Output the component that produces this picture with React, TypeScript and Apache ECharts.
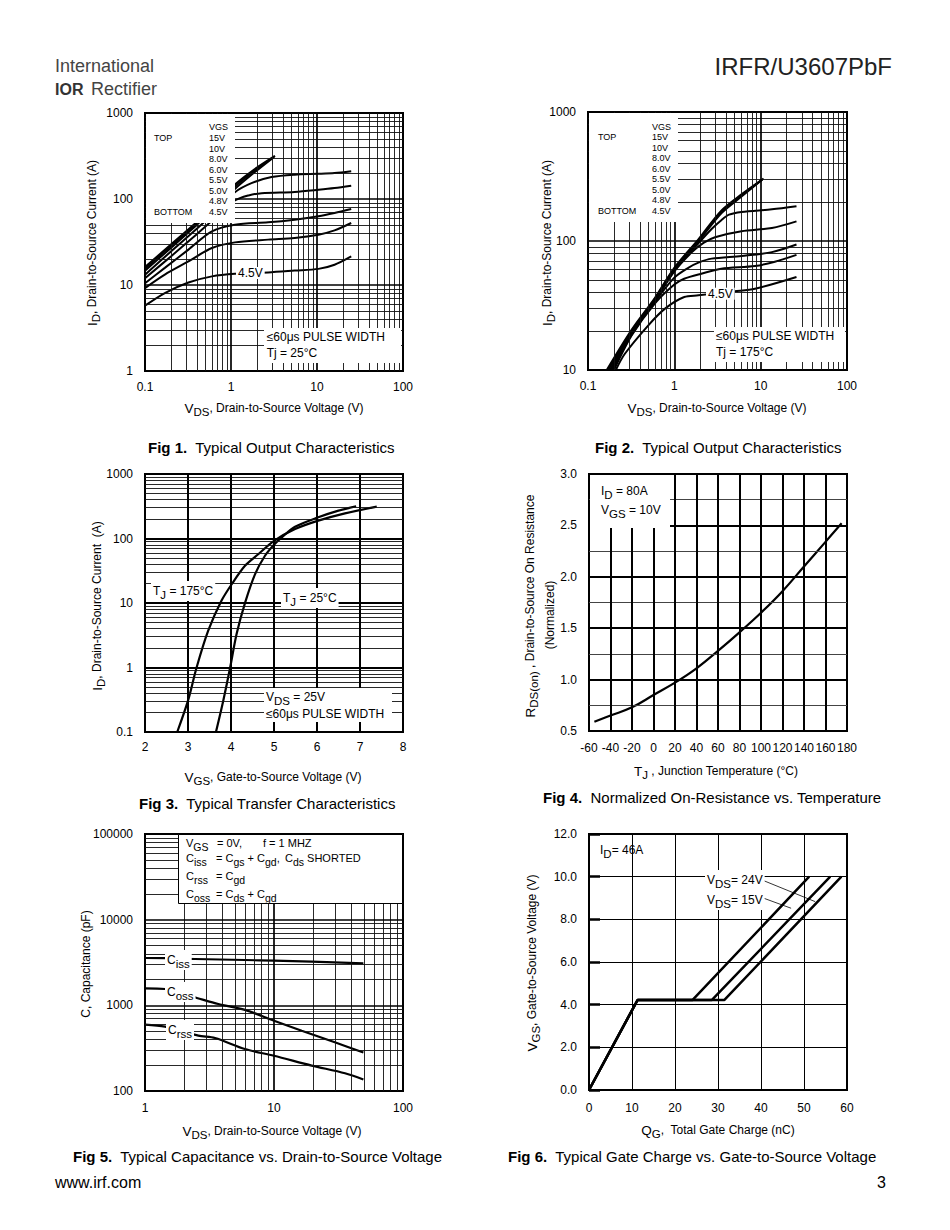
import React, { useEffect, useRef } from 'react';
import * as echarts from 'echarts';

const FONT = '"Liberation Sans", Arial, Helvetica, sans-serif';

// ---------------- Fig 1: Typical Output Characteristics, Tj = 25°C  ([VDS V, ID A])
const fig1Labels = ['15V', '10V', '8.0V', '6.0V', '5.5V', '5.0V', '4.8V', '4.5V'];
const fig1_15V = [[0.1, 16.2], [0.2, 29.5], [0.4, 54], [0.7, 90], [1.11, 147], [2, 232], [3.25, 318]];
const fig1_10V = [[0.1, 15.5], [0.2, 28.5], [0.4, 52], [0.7, 86], [1.11, 139], [2, 224], [3.2, 312]];
const fig1_8V = [[0.1, 14.6], [0.2, 27], [0.4, 50], [0.7, 82], [1.11, 131], [2, 215], [3.1, 303]];
const fig1_6V = [[0.1, 13.2], [0.2, 24.5], [0.4, 45], [0.7, 76], [1.11, 120], [1.73, 153], [2.96, 180], [5.5, 192], [10.4, 196], [16, 200], [25, 210]];
const fig1_55V = [[0.1, 12], [0.2, 21.5], [0.4, 39], [0.7, 64], [1.11, 96], [1.6, 110], [2.27, 117], [5.5, 121], [10.4, 128], [16, 134], [25, 143]];
const fig1_5V = [[0.1, 10.5], [0.17, 15.8], [0.32, 25.8], [0.6, 42], [1.11, 50.3], [2.7, 53.5], [5.5, 57.5], [10.4, 62.9], [16, 68.7], [25, 76.5]];
const fig1_48V = [[0.1, 9.2], [0.17, 13.2], [0.32, 18.8], [0.6, 26.9], [1.11, 31.3], [2.7, 33.7], [5.5, 35.2], [10.4, 38.5], [16, 43.2], [25, 52.6]];
const fig1_45V = [[0.1, 5.75], [0.17, 8.07], [0.32, 10.7], [0.6, 12.6], [1.11, 13.5], [2.7, 14], [5.5, 14.7], [10.4, 15.4], [16, 17.2], [25, 21.5]];
const fig1XTicks = [0.1, 1, 10, 100];
const fig1YTicks = [1, 10, 100, 1000];

// ---------------- Fig 2: Typical Output Characteristics, Tj = 175°C
const fig2_15V = [[0.165, 10], [0.32, 20.5], [0.6, 36.5], [1, 62], [1.9, 103], [3.5, 172], [6, 230], [10.8, 305]];
const fig2_10V = [[0.172, 10], [0.32, 20], [0.6, 36], [1, 61], [1.9, 101], [3.5, 168], [6, 226], [10.5, 300]];
const fig2_8V = [[0.18, 10], [0.32, 19.5], [0.6, 35.5], [1, 60], [1.9, 99], [3.5, 164], [6, 221], [10.2, 296]];
const fig2_6V = [[0.185, 10], [0.32, 19.2], [0.6, 35], [1, 59], [1.9, 96], [2.7, 124], [3.5, 145], [4.3, 160], [6, 168], [13.5, 176], [26, 186]];
const fig2_55V = [[0.19, 10], [0.32, 19], [0.6, 34.5], [1, 58], [1.6, 82], [2.2, 97], [2.96, 107], [6, 119], [13.5, 126], [26, 142]];
const fig2_5V = [[0.195, 10], [0.32, 18.8], [0.6, 34], [1, 52], [1.45, 62], [1.9, 68], [2.7, 73], [6, 76.6], [13.5, 82], [26, 94]];
const fig2_48V = [[0.2, 10], [0.32, 18.5], [0.6, 33], [1, 46], [1.3, 51], [2.1, 56], [3.5, 61], [8.6, 64], [14.6, 69], [26, 78]];
const fig2_45V = [[0.21, 10], [0.266, 13.3], [0.5, 22.2], [0.78, 29.9], [1.3, 36.8], [1.9, 37.9], [5, 40.7], [8.6, 42.6], [26, 52.6]];
const fig2XTicks = [0.1, 1, 10, 100];
const fig2YTicks = [10, 100, 1000];

// ---------------- Fig 3: Typical Transfer Characteristics ([VGS V, ID A])
const fig3T175 = [[2.75, 0.1], [3.0, 0.306], [3.2, 1.0], [3.47, 3.72], [3.78, 10.9], [4.02, 19.7], [4.33, 38], [4.64, 57.5], [5.0, 92], [5.49, 140], [6.03, 189], [6.65, 245], [7.39, 312]];
const fig3T25 = [[3.65, 0.1], [3.82, 0.306], [3.98, 1.0], [4.13, 3.3], [4.33, 10.2], [4.56, 28], [4.79, 54], [5.0, 80], [5.18, 104], [5.49, 152], [6.03, 213], [6.5, 270], [6.91, 316]];
const fig3XTicks = [2, 3, 4, 5, 6, 7, 8];
const fig3YTicks = [0.1, 1, 10, 100, 1000];

// ---------------- Fig 4: Normalized On-Resistance vs. Temperature
const fig4Temp = [-55, -40, -20, 0, 20, 40, 60, 80, 100, 120, 140, 160, 175];
const fig4Rds = [0.59, 0.65, 0.73, 0.85, 0.97, 1.11, 1.28, 1.46, 1.65, 1.86, 2.1, 2.34, 2.52];
const fig4XTicks = [-60, -40, -20, 0, 20, 40, 60, 80, 100, 120, 140, 160, 180];
const fig4YTicks = [0.5, 1.0, 1.5, 2.0, 2.5, 3.0];

// ---------------- Fig 5: Typical Capacitance vs. VDS ([VDS V, C pF])
const fig5Ciss = [[1, 3570], [1.43, 3560], [2.44, 3475], [5.95, 3380], [10, 3320], [19.6, 3236], [49.3, 3090]];
const fig5Coss = [[1, 1578], [1.43, 1550], [2.52, 1220], [3.7, 1037], [5.95, 884], [10, 662], [16.4, 506], [29.6, 370], [49.3, 282]];
const fig5Crss = [[1, 595], [1.43, 564], [2.59, 443], [3.49, 416], [5.95, 309], [10, 258], [19.6, 198], [35.5, 161], [49.3, 136]];
const fig5XTicks = [1, 10, 100];
const fig5YTicks = [100, 1000, 10000, 100000];

// ---------------- Fig 6: Typical Gate Charge vs. VGS ([QG nC, VGS V])
const fig6Left = [[0, 0], [11.3, 4.22], [24.1, 4.22], [51.2, 10]];
const fig6Mid = [[0, 0], [11.3, 4.22], [28.6, 4.22], [56.1, 10]];
const fig6Right = [[0, 0], [11.3, 4.22], [31.5, 4.22], [58.7, 10]];
const fig6Leader24 = [[39.8, 9.88], [52.6, 8.83]];
const fig6Leader15 = [[40.1, 9.03], [47, 8.52]];
const fig6XTicks = [0, 10, 20, 30, 40, 50, 60];
const fig6YTicks = [0, 2, 4, 6, 8, 10, 12];

// ---------------- helpers
const last = (a: number[]) => a[a.length - 1];
const inner = (a: number[]) => a.slice(1, -1);
const decadeMinor = (lo: number, hi: number) => {
  const out: number[] = [];
  for (let e = Math.round(Math.log10(lo)); e < Math.round(Math.log10(hi)); e++) {
    for (let k = 2; k <= 9; k++) out.push(Number((k * Math.pow(10, e)).toPrecision(3)));
  }
  return out;
};
const fmtLog = (v: number) => String(Number(Number(v).toPrecision(6)));

const labelBase = { color: '#000', fontSize: 12, fontFamily: FONT };

function logAxis(grid: number, ticks: number[], margin: number) {
  return {
    gridIndex: grid, type: 'log', logBase: 10, min: ticks[0], max: last(ticks),
    axisLine: { show: false }, axisTick: { show: false }, splitLine: { show: false },
    axisLabel: { ...labelBase, margin, formatter: fmtLog, showMinLabel: true, showMaxLabel: true },
  };
}
function valAxis(grid: number, ticks: number[], margin: number, fmt: (v: number) => string, extra: any = {}) {
  return {
    gridIndex: grid, type: 'value', min: ticks[0], max: last(ticks), interval: ticks[1] - ticks[0],
    axisLine: { show: false }, axisTick: { show: false }, splitLine: { show: false },
    axisLabel: { ...labelBase, margin, formatter: fmt, interval: 0, showMinLabel: true, showMaxLabel: true },
    ...extra,
  };
}
function gridLines(idx: number, anchor: number[], xs: number[], ys: number[], width: number, color: string) {
  return {
    type: 'line', xAxisIndex: idx, yAxisIndex: idx, data: [anchor], symbol: 'none', silent: true, z: 1,
    lineStyle: { opacity: 0 },
    markLine: {
      silent: true, symbol: ['none', 'none'], label: { show: false }, animation: false,
      lineStyle: { color, width, type: 'solid' }, emphasis: { disabled: true },
      data: [...xs.map((v) => ({ xAxis: v })), ...ys.map((v) => ({ yAxis: v }))],
    },
  };
}
function curve(idx: number, name: string, data: number[][], width = 2, smooth: any = 0.3) {
  return {
    type: 'line', name, xAxisIndex: idx, yAxisIndex: idx, data, symbol: 'none', showSymbol: false,
    smooth, silent: true, z: 3, lineStyle: { color: '#000', width },
  };
}

const richSet = (size: number) => {
  const L = size + 8;
  const base = { fontSize: size, fontFamily: FONT, fill: '#000', color: '#000', lineHeight: L, verticalAlign: 'middle' };
  return {
    n: base,
    v: { ...base, fontSize: size + 1.5 },
    s: { fontSize: size - 0.5, fontFamily: FONT, fill: '#000', color: '#000', lineHeight: size, verticalAlign: 'bottom' },
  };
};
const R12 = richSet(12);
const R11 = richSet(11);
const capRich = {
  b: { fontSize: 15, fontWeight: 'bold', fontFamily: FONT, fill: '#000', color: '#000' },
  n: { fontSize: 15, fontFamily: FONT, fill: '#000', color: '#000' },
};

function T(x: number, y: number, text: string, o: any = {}) {
  const el: any = {
    type: 'text', x, y, z: 60, silent: true, rotation: o.rot || 0,
    style: {
      text, fill: o.color || '#000', fontSize: o.size || 12, fontFamily: FONT, fontWeight: o.weight || 'normal',
      textAlign: o.align || 'left', textVerticalAlign: 'middle', align: o.align || 'left', verticalAlign: 'middle',
    },
  };
  if (o.rich) el.style.rich = o.rich;
  if (o.bg) { el.style.backgroundColor = '#fff'; el.style.padding = [0, 2]; }
  return el;
}
function Rect(x: number, y: number, w: number, h: number, stroke?: string) {
  return {
    type: 'rect', z: 55, silent: true, shape: { x, y, width: w, height: h },
    style: { fill: '#fff', stroke: stroke || null, lineWidth: 1 },
  };
}
const cap = (x: number, y: number, a: string, b: string) => T(x, y, `{b|${a}}{n|  ${b}}`, { rich: capRich });
const ROT = Math.PI / 2;

function buildOption() {
  const gridBase = { show: true, borderColor: '#000', borderWidth: 2, containLabel: false };
  const grids = [
    { ...gridBase, left: 145, top: 113, width: 258, height: 258 },
    { ...gridBase, left: 588, top: 112, width: 259, height: 258 },
    { ...gridBase, left: 145, top: 474, width: 258, height: 258 },
    { ...gridBase, left: 589, top: 474, width: 258, height: 257 },
    { ...gridBase, left: 145, top: 834, width: 258, height: 257 },
    { ...gridBase, left: 589, top: 834, width: 258, height: 256 },
  ];
  const fix1 = (v: number) => Number(v).toFixed(1);
  const int = (v: number) => String(v);
  const xAxis = [
    logAxis(0, fig1XTicks, 10),
    logAxis(1, fig2XTicks, 10),
    valAxis(2, fig3XTicks, 9, int),
    valAxis(3, fig4XTicks, 11, int),
    logAxis(4, fig5XTicks, 11),
    valAxis(5, fig6XTicks, 12, int),
  ];
  const yAxis = [
    logAxis(0, fig1YTicks, 12),
    logAxis(1, fig2YTicks, 12),
    logAxis(2, fig3YTicks, 12),
    valAxis(3, fig4YTicks, 12, fix1),
    logAxis(4, fig5YTicks, 12),
    valAxis(5, fig6YTicks, 12, fix1, {
      axisTick: { show: true, inside: true, length: 11, lineStyle: { width: 2.5, color: '#000' } },
    }),
  ];

  const MINOR_W = 0.9;
  const MINOR_C = '#111';
  const series: any[] = [];
  // Fig 1
  series.push(gridLines(0, [0.1, 1], decadeMinor(0.1, 100), decadeMinor(1, 1000), MINOR_W, MINOR_C));
  series.push(gridLines(0, [0.1, 1], inner(fig1XTicks), inner(fig1YTicks), 1.7, '#000'));
  [fig1_15V, fig1_10V, fig1_8V, fig1_6V, fig1_55V, fig1_5V, fig1_48V, fig1_45V].forEach((d, i) =>
    series.push(curve(0, 'VGS ' + fig1Labels[i], d, 2)));
  // Fig 2
  series.push(gridLines(1, [0.1, 10], decadeMinor(0.1, 100), decadeMinor(10, 1000), MINOR_W, MINOR_C));
  series.push(gridLines(1, [0.1, 10], inner(fig2XTicks), inner(fig2YTicks), 1.7, '#000'));
  [fig2_15V, fig2_10V, fig2_8V, fig2_6V, fig2_55V, fig2_5V, fig2_48V, fig2_45V].forEach((d, i) =>
    series.push(curve(1, 'VGS ' + fig1Labels[i], d, 2)));
  // Fig 3
  series.push(gridLines(2, [2, 0.1], [], decadeMinor(0.1, 1000), MINOR_W, MINOR_C));
  series.push(gridLines(2, [2, 0.1], inner(fig3XTicks), inner(fig3YTicks), 2, '#000'));
  series.push(curve(2, 'TJ = 175°C', fig3T175, 2.2));
  series.push(curve(2, 'TJ = 25°C', fig3T25, 2.2));
  // Fig 4
  series.push(gridLines(3, [-60, 0.5], [], [0.75, 1.25, 1.75, 2.25, 2.75], 1, '#444'));
  series.push(gridLines(3, [-60, 0.5], inner(fig4XTicks), inner(fig4YTicks), 2, '#000'));
  series.push(curve(3, 'RDS(on)', fig4Temp.map((t, i) => [t, fig4Rds[i]]), 2.2, 0.4));
  // Fig 5
  series.push(gridLines(4, [1, 100], decadeMinor(1, 100), decadeMinor(100, 100000), MINOR_W, MINOR_C));
  series.push(gridLines(4, [1, 100], inner(fig5XTicks), inner(fig5YTicks), 1.7, '#000'));
  series.push(curve(4, 'Ciss', fig5Ciss, 2.2));
  series.push(curve(4, 'Coss', fig5Coss, 2.2));
  series.push(curve(4, 'Crss', fig5Crss, 2.2));
  // Fig 6
  series.push(gridLines(5, [0, 0], inner(fig6XTicks), inner(fig6YTicks), 1, '#000'));
  series.push(curve(5, 'VDS (left)', fig6Left, 2.5, false));
  series.push(curve(5, 'VDS= 15V', fig6Mid, 2.5, false));
  series.push(curve(5, 'VDS= 24V', fig6Right, 2.5, false));
  series.push(curve(5, 'leader 24V', fig6Leader24, 0.8, false));
  series.push(curve(5, 'leader 15V', fig6Leader15, 0.8, false));

  const legendY = (i: number) => 138 + i * 10.55;
  const elements: any[] = [
    // header / footer
    T(55, 66, 'International', { size: 18, color: '#444' }),
    T(55, 89, 'IOR', { size: 16, weight: 'bold', color: '#333' }),
    T(91, 89, 'Rectifier', { size: 18, color: '#444' }),
    T(892, 66, 'IRFR/U3607PbF', { size: 24, align: 'right', color: '#222' }),
    T(55, 1182, 'www.irf.com', { size: 16 }),
    T(886, 1182, '3', { size: 16, align: 'right' }),
    // captions
    cap(148, 447, 'Fig 1.', 'Typical Output Characteristics'),
    cap(595, 447, 'Fig 2.', 'Typical Output Characteristics'),
    cap(139, 803, 'Fig 3.', 'Typical Transfer Characteristics'),
    cap(543, 797, 'Fig 4.', 'Normalized On-Resistance vs. Temperature'),
    cap(73, 1156, 'Fig 5.', 'Typical Capacitance vs. Drain-to-Source Voltage'),
    cap(508, 1156, 'Fig 6.', 'Typical Gate Charge vs. Gate-to-Source Voltage'),
    // axis names
    T(274, 408, '{v|V}{s|DS}{n|, Drain-to-Source Voltage (V)}', { align: 'center', rich: R12 }),
    T(92, 243, '{v|I}{s|D}{n|, Drain-to-Source Current (A)}', { align: 'center', rich: R12, rot: ROT }),
    T(717, 408, '{v|V}{s|DS}{n|, Drain-to-Source Voltage (V)}', { align: 'center', rich: R12 }),
    T(547, 243, '{v|I}{s|D}{n|, Drain-to-Source Current (A)}', { align: 'center', rich: R12, rot: ROT }),
    T(273, 777, '{v|V}{s|GS}{n|, Gate-to-Source Voltage (V)}', { align: 'center', rich: R12 }),
    T(97, 606, '{v|I}{s|D}{n|, Drain-to-Source Current  (A)}', { align: 'center', rich: R12, rot: ROT }),
    T(716, 771, '{v|T}{s|J}{n| , Junction Temperature (°C)}', { align: 'center', rich: R12 }),
    T(530, 606, '{v|R}{s|DS(on)}{n| , Drain-to-Source On Resistance}', { align: 'center', rich: R12, rot: ROT }),
    T(550, 615, '{n|(Normalized)}', { align: 'center', rich: R12, rot: ROT }),
    T(272, 1131, '{v|V}{s|DS}{n|, Drain-to-Source Voltage (V)}', { align: 'center', rich: R12 }),
    T(86, 964, '{n|C, Capacitance (pF)}', { align: 'center', rich: R12, rot: ROT }),
    T(718, 1130, '{v|Q}{s|G}{n|,  Total Gate Charge (nC)}', { align: 'center', rich: R12 }),
    T(532, 963, '{v|V}{s|GS}{n|, Gate-to-Source Voltage (V)}', { align: 'center', rich: R12, rot: ROT }),

    // Fig 1 legend + notes
    Rect(146, 114, 89, 109),
    T(209, 127.3, 'VGS', { size: 9 }),
    T(154, legendY(0), 'TOP', { size: 9 }),
    T(154, legendY(7), 'BOTTOM', { size: 9 }),
    ...fig1Labels.map((l, i) => T(209, legendY(i), l, { size: 9 })),
    T(236, 273, '4.5V', { size: 12, bg: true }),
    Rect(264, 328, 137, 35),
    T(266.7, 337, '≤60μs PULSE WIDTH', { size: 12 }),
    T(266.7, 353, 'Tj = 25°C', { size: 12 }),

    // Fig 2 legend + notes
    Rect(589, 113, 89, 109),
    T(652, 126.5, 'VGS', { size: 9 }),
    T(598, legendY(0) - 1, 'TOP', { size: 9 }),
    T(598, legendY(7) - 1, 'BOTTOM', { size: 9 }),
    ...fig1Labels.map((l, i) => T(652, legendY(i) - 1, l, { size: 9 })),
    T(706, 293.7, '4.5V', { size: 12, bg: true }),
    Rect(714, 327, 131, 35),
    T(716, 336, '≤60μs PULSE WIDTH', { size: 12 }),
    T(716, 352, 'Tj = 175°C', { size: 12 }),

    // Fig 3 notes
    T(151, 591, '{n|T}{s|J}{n| = 175°C}', { rich: R12, bg: true }),
    T(281, 598, '{n|T}{s|J}{n| = 25°C}', { rich: R12, bg: true }),
    Rect(264, 688, 128, 34),
    T(266, 697, '{n|V}{s|DS}{n| = 25V}', { rich: R12 }),
    T(266, 714, '≤60μs PULSE WIDTH', { size: 12 }),

    // Fig 4 notes
    Rect(590, 475, 80, 53),
    T(601, 491, '{n|I}{s|D}{n| = 80A}', { rich: R12 }),
    T(601, 510, '{n|V}{s|GS}{n| = 10V}', { rich: R12 }),

    // Fig 5 legend box and curve labels
    Rect(178.5, 834.5, 224, 69, '#000'),
    T(186, 843, '{n|V}{s|GS}', { rich: R11 }),
    T(217, 843, '{n|= 0V,}', { rich: R11 }),
    T(263, 843, '{n|f = 1 MHZ}', { rich: R11 }),
    T(186, 858, '{n|C}{s|iss}', { rich: R11 }),
    T(216, 858, '{n|= C}{s|gs}{n| + C}{s|gd}{n|,}', { rich: R11 }),
    T(285, 858, '{n|C}{s|ds}{n| SHORTED}', { rich: R11 }),
    T(186, 876, '{n|C}{s|rss}', { rich: R11 }),
    T(216, 876, '{n|= C}{s|gd}', { rich: R11 }),
    T(186, 894, '{n|C}{s|oss}', { rich: R11 }),
    T(216, 894, '{n|= C}{s|ds}{n| + C}{s|gd}', { rich: R11 }),
    T(165, 960, '{n|C}{s|iss}', { rich: R12, bg: true }),
    T(165, 992, '{n|C}{s|oss}', { rich: R12, bg: true }),
    T(166, 1030, '{n|C}{s|rss}', { rich: R12, bg: true }),

    // Fig 6 notes
    T(600, 850, '{n|I}{s|D}{n|= 46A}', { rich: R12 }),
    T(705, 880, '{n|V}{s|DS}{n|= 24V}', { rich: R12, bg: true }),
    T(705, 900, '{n|V}{s|DS}{n|= 15V}', { rich: R12, bg: true }),
  ];

  return {
    animation: false,
    backgroundColor: '#fff',
    textStyle: { fontFamily: FONT },
    grid: grids,
    xAxis,
    yAxis,
    series,
    graphic: { elements },
  };
}

export default function App() {
  const ref = useRef<HTMLDivElement>(null);
  useEffect(() => {
    if (!ref.current) return;
    const chart = echarts.init(ref.current, undefined, { renderer: 'svg' });
    chart.setOption(buildOption() as any);
    return () => chart.dispose();
  }, []);
  return <div ref={ref} style={{ position: 'absolute', left: 0, top: 0, width: 950, height: 1230 }} />;
}
